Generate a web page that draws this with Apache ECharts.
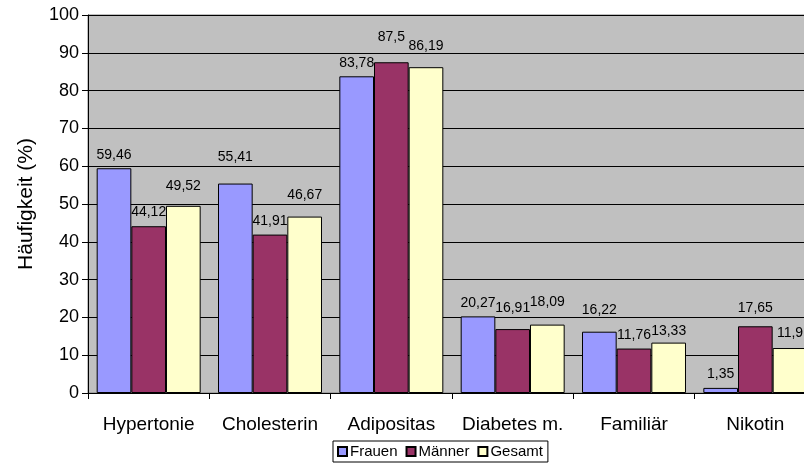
<!DOCTYPE html>
<html>
<head>
<meta charset="utf-8">
<script src="https://cdn.jsdelivr.net/npm/echarts@6/dist/echarts.min.js"></script>
<style>
  html, body { margin: 0; padding: 0; background: #ffffff; overflow: hidden; }
  /* plot area runs slightly past the right window edge */
  #chart { width: 816px; height: 466px; }
</style>
</head>
<body>
<div id="chart"></div>
<script>
// Risk factor frequencies (%) by group
const categories = ['Hypertonie', 'Cholesterin', 'Adipositas', 'Diabetes m.', 'Familiär', 'Nikotin'];
const frauen = [59.46, 55.41, 83.78, 20.27, 16.22, 1.35];
const maenner = [44.12, 41.91, 87.5, 16.91, 11.76, 17.65];
const gesamt = [49.52, 46.67, 86.19, 18.09, 13.33, 11.9];
const seriesNames = ['Frauen', 'Männer', 'Gesamt'];
const seriesColors = ['#9999FF', '#993366', '#FFFFCC'];

// extra upward nudge (px) of individual value labels, per series
const labelLift = [
  [0, 13, 0, 0, 9, 1],
  [1, 0, 12, 8, 0, 5],
  [7, 8, 8, 9, -2, 2]
];

const FONT = 'Liberation Sans, Arial, sans-serif';

function fmt(v) {
  return String(v).replace('.', ',');
}

const chart = echarts.init(document.getElementById('chart'), null, { renderer: 'canvas' });

const dataSets = [frauen, maenner, gesamt];

chart.setOption({
  animation: false,
  backgroundColor: '#ffffff',
  textStyle: { fontFamily: FONT, color: '#000' },
  grid: {
    left: 88,
    top: 15,
    right: 0,
    bottom: 73,
    show: true,
    backgroundColor: '#C0C0C0',
    borderColor: '#808080',
    borderWidth: 1
  },
  legend: {
    left: 333,
    top: 441,
    itemWidth: 9,
    itemHeight: 9,
    itemGap: 8,
    padding: [3, 5, 3, 4],
    borderColor: '#000',
    borderWidth: 1,
    icon: 'rect',
    textStyle: { fontFamily: FONT, fontSize: 15, color: '#000', padding: [0, 0, 0, -2] },
    data: seriesNames
  },
  xAxis: {
    type: 'category',
    data: categories,
    axisLine: { lineStyle: { color: '#000', width: 1 } },
    axisTick: { show: true, interval: 0, length: 6, lineStyle: { color: '#000' } },
    axisLabel: { interval: 0, fontFamily: FONT, fontSize: 19, color: '#000', margin: 22 },
    splitLine: { show: false }
  },
  yAxis: {
    type: 'value',
    min: 0,
    max: 100,
    interval: 10,
    name: 'Häufigkeit (%)',
    nameLocation: 'middle',
    nameRotate: 90,
    nameGap: 51,
    nameTextStyle: { fontFamily: FONT, fontSize: 21, color: '#000' },
    axisLine: { show: true, lineStyle: { color: '#000', width: 1 } },
    axisTick: { show: true, length: 6, lineStyle: { color: '#000' } },
    axisLabel: { fontFamily: FONT, fontSize: 18, color: '#000', margin: 9 },
    splitLine: { show: true, lineStyle: { color: '#000', width: 1 } }
  },
  series: dataSets.map((d, i) => ({
    name: seriesNames[i],
    type: 'bar',
    data: d.map((v, j) => ({
      value: v,
      label: { offset: [0, -labelLift[i][j]] }
    })),
    barGap: '0%',
    barCategoryGap: '14.3%',
    itemStyle: { color: seriesColors[i], borderColor: '#000', borderWidth: 1 },
    label: {
      show: true,
      position: 'top',
      distance: 6,
      fontFamily: FONT,
      fontSize: 14,
      color: '#000',
      formatter: p => fmt(p.value)
    }
  }))
});
</script>
</body>
</html>
